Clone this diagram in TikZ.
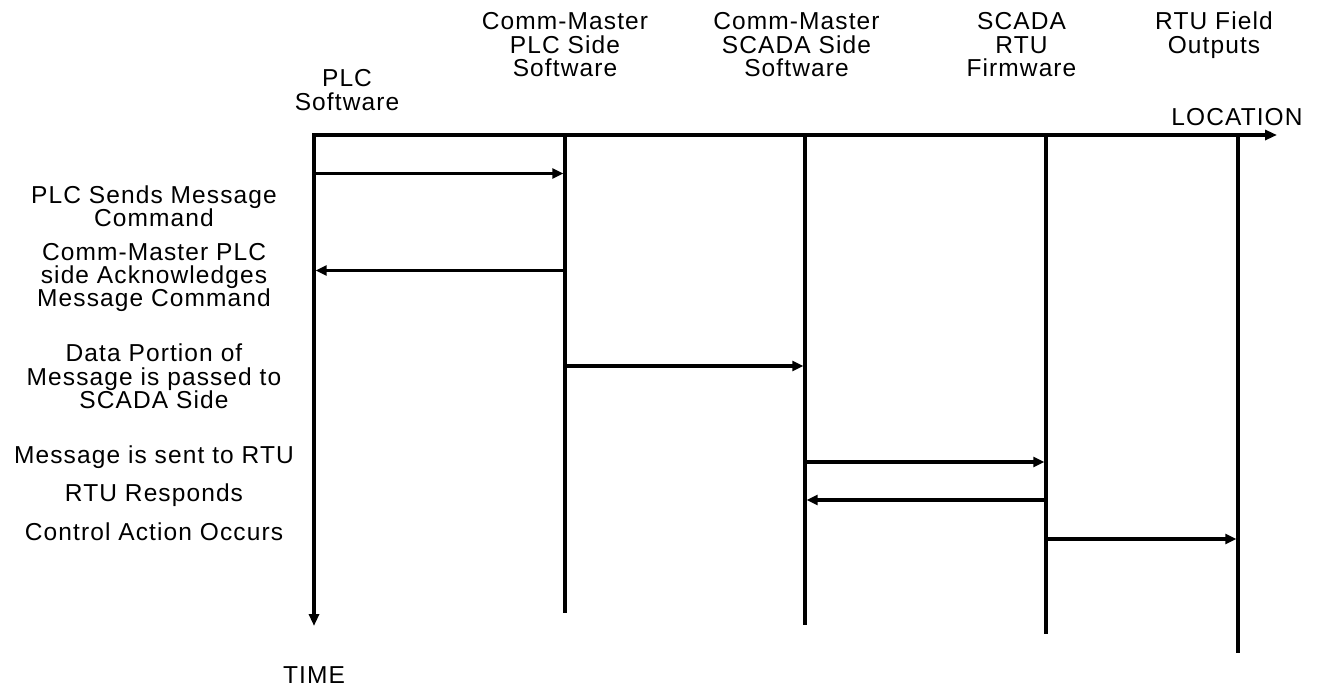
\documentclass[tikz,border=0pt]{standalone}
\usepackage{fontspec}
\setmainfont{Liberation Sans}[LetterSpace=4.5]
\usetikzlibrary{arrows.meta}
\newcommand\mlines[1]{\vtop{\halign{\hfil##\hfil\cr#1\crcr}}}
\begin{document}
\begin{tikzpicture}[x=1pt,y=-1pt,
  txt/.style={font=\fontsize{24.5}{23.3}\selectfont, inner sep=0pt, anchor=base},
  axis/.style={line width=3.5pt, line join=miter, {Triangle[length=12pt,width=10pt]}-{Triangle[length=12pt,width=10pt]}},
  life/.style={line width=3.5pt},
  msg/.style={line width=3.5pt, -{Triangle[length=11pt,width=10pt]}}]
\useasboundingbox (0,0) rectangle (1318,688);
% axes
\coordinate (o) at (314,135);
\coordinate (xend) at (1277,135);
\coordinate (yend) at (314,626);
\draw[axis] (yend) -- (o) -- (xend);
% lifelines
\coordinate (l2t) at (565,135);  \coordinate (l2b) at (565,613);
\coordinate (l3t) at (805,135);  \coordinate (l3b) at (805,625);
\coordinate (l4t) at (1046,135); \coordinate (l4b) at (1046,634);
\coordinate (l5t) at (1238,135); \coordinate (l5b) at (1238,653);
\draw[life] (l2t) -- (l2b);
\draw[life] (l3t) -- (l3b);
\draw[life] (l4t) -- (l4b);
\draw[life] (l5t) -- (l5b);
% messages
\coordinate (m1s) at (314,173.5);  \coordinate (m1e) at (563.3,173.5);
\coordinate (m2s) at (565,270.5);  \coordinate (m2e) at (315.7,270.5);
\coordinate (m3s) at (565,366);    \coordinate (m3e) at (803.3,366);
\coordinate (m4s) at (805,462);    \coordinate (m4e) at (1044.3,462);
\coordinate (m5s) at (1046,500);   \coordinate (m5e) at (806.7,500);
\coordinate (m6s) at (1046,539);   \coordinate (m6e) at (1236.3,539);
\draw[msg] (m1s) -- (m1e);
\draw[msg] (m2s) -- (m2e);
\draw[msg] (m3s) -- (m3e);
\draw[msg] (m4s) -- (m4e);
\draw[msg] (m5s) -- (m5e);
\draw[msg] (m6s) -- (m6e);
% headers
\node[txt] (hplc) at (347,86.7) {\mlines{PLC\cr Software}};
\node[txt] (hcmp) at (565,30) {\mlines{Comm-Master\cr PLC Side\cr Software}};
\node[txt] (hcms) at (796.5,30) {\mlines{Comm-Master\cr SCADA Side\cr Software}};
\node[txt] (hrtu) at (1021.5,30) {\mlines{SCADA\cr RTU\cr Firmware}};
\node[txt] (hout) at (1214,30) {\mlines{RTU Field\cr Outputs}};
\node[txt] (loc) at (1237,125) {LOCATION};
\node[txt] (time) at (314,683) {TIME};
% event labels
\node[txt] (e1) at (154,203.5) {\mlines{PLC Sends Message\cr Command}};
\node[txt] (e2) at (154,260) {\mlines{Comm-Master PLC\cr side Acknowledges\cr Message Command}};
\node[txt] (e3) at (154,361.7) {\mlines{Data Portion of\cr Message is passed to\cr SCADA Side}};
\node[txt] (e4) at (154,463.5) {Message is sent to RTU};
\node[txt] (e5) at (154,501.5) {RTU Responds};
\node[txt] (e6) at (154,540) {Control Action Occurs};
\end{tikzpicture}
\end{document}
